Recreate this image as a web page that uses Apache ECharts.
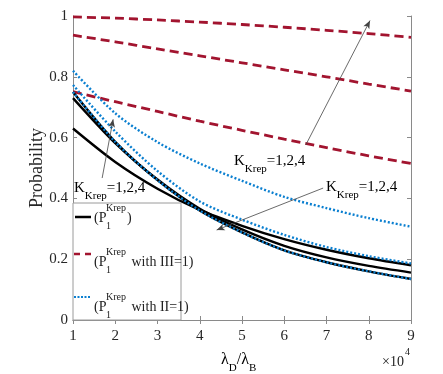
<!doctype html>
<html>
<head>
<meta charset="utf-8">
<title>Probability vs lambda</title>
<script src="https://cdn.jsdelivr.net/npm/echarts@6/dist/echarts.min.js"></script>
<style>
  html, body { margin: 0; padding: 0; background: #fff; }
  #main { width: 443px; height: 374px; }
</style>
</head>
<body>
<div id="main"></div>
<script>
var xs = [1, 2, 3, 4, 5, 6, 7, 8, 9];

// black solid: P1^Krep for Krep = 1, 2, 4
var black1 = [0.630, 0.520, 0.432, 0.362, 0.310, 0.266, 0.231, 0.203, 0.180];
var black2 = [0.730, 0.582, 0.462, 0.366, 0.298, 0.244, 0.206, 0.178, 0.156];
var black4 = [0.750, 0.586, 0.460, 0.360, 0.288, 0.229, 0.190, 0.160, 0.135];

// red dashed: with III=1
var red1 = [0.751, 0.718, 0.686, 0.654, 0.624, 0.595, 0.567, 0.540, 0.515];
var red2 = [0.937, 0.915, 0.892, 0.869, 0.846, 0.823, 0.800, 0.776, 0.753];
var red4 = [0.997, 0.993, 0.987, 0.980, 0.972, 0.963, 0.953, 0.942, 0.930];

// blue dotted: with II=1
var blue1 = [0.820, 0.680, 0.585, 0.515, 0.458, 0.405, 0.368, 0.335, 0.307];
var blue2 = [0.773, 0.620, 0.490, 0.390, 0.330, 0.280, 0.240, 0.210, 0.186];
var blue4 = [0.750, 0.586, 0.460, 0.360, 0.288, 0.229, 0.190, 0.160, 0.135];

// annotation arrows [from, to] in data coords
var arrows = [
  [[6.51, 0.576], [8.03, 0.985]],
  [[1.69, 0.467], [1.95, 0.660]],
  [[6.92, 0.434], [4.40, 0.296]]
];

var SERIF = '"Liberation Serif", "DejaVu Serif", serif';
var BLACK = '#000000', RED = '#A2142F', BLUE = '#0a7fd0';

function pairs(ys) {
  return xs.map(function (x, i) { return [x, ys[i]]; });
}

function lineSeries(ys, color, type, width, z) {
  return {
    type: 'line',
    data: pairs(ys),
    showSymbol: false,
    smooth: 0.3,
    z: z,
    lineStyle: { color: color, width: width, type: type },
    silent: true
  };
}

var myChart = echarts.init(document.getElementById('main'), null, { renderer: 'canvas' });

var krepRich = {
  m: { fontFamily: SERIF, fontSize: 15, color: '#111', verticalAlign: 'top', lineHeight: 15 },
  s: { fontFamily: SERIF, fontSize: 11, color: '#111', verticalAlign: 'bottom', lineHeight: 21 }
};

function krepLabel(x, y) {
  return {
    type: 'text', left: x, top: y, z: 100,
    style: { text: '{m|K}{s|Krep}{m|=1,2,4}', rich: krepRich }
  };
}

function txt(x, y, s, size) {
  return {
    type: 'text', left: x, top: y, z: 101,
    style: { text: s, fontFamily: SERIF, fontSize: size, fill: '#222' }
  };
}

function legendEntry(y, tail) {
  return [
    txt(94, y - 7, '(P', 14),
    txt(106, y - 15, 'Krep', 10),
    txt(106, y + 3, '1', 10),
    txt(tail === ')' ? 127 : 128, y - 7, tail, 14)
  ];
}

var graphics = [
  krepLabel(234, 154),
  krepLabel(74, 181),
  krepLabel(326, 180),
  {
    type: 'rect', z: 90,
    shape: { x: 73, y: 203, width: 108, height: 117 },
    style: { fill: '#fff', stroke: '#9a9a9a', lineWidth: 1 }
  },
  { type: 'line', z: 95, shape: { x1: 75, y1: 217, x2: 91, y2: 217 },
    style: { stroke: BLACK, lineWidth: 2.5 } },
  { type: 'line', z: 95, shape: { x1: 74, y1: 254, x2: 91, y2: 254 },
    style: { stroke: RED, lineWidth: 2.5, lineDash: [6, 5] } },
  { type: 'line', z: 95, shape: { x1: 74, y1: 297, x2: 91, y2: 297 },
    style: { stroke: BLUE, lineWidth: 2, lineDash: [2, 1.5] } },
  {
    type: 'text', left: 221, top: 352, z: 100,
    style: {
      text: '{m|λ}{s|D}{m|/λ}{s|B}',
      rich: {
        m: { fontFamily: SERIF, fontSize: 16, color: '#222', verticalAlign: 'top', lineHeight: 16 },
        s: { fontFamily: SERIF, fontSize: 11, color: '#222', verticalAlign: 'bottom', lineHeight: 22 }
      }
    }
  },
  txt(382, 355, '×10', 14),
  txt(405, 347, '4', 10)
];
graphics = graphics.concat(legendEntry(218, ')'));
graphics = graphics.concat(legendEntry(262, ' with III=1)'));
graphics = graphics.concat(legendEntry(307, ' with II=1)'));

var arrowSeries = {
  type: 'line',
  data: [],
  silent: true,
  markLine: {
    silent: true,
    animation: false,
    symbol: ['none', 'arrow'],
    symbolSize: [5, 8],
    label: { show: false },
    lineStyle: { color: '#444', width: 0.8, type: 'solid' },
    data: arrows.map(function (a) {
      return [{ coord: a[0] }, { coord: a[1] }];
    })
  }
};

var axisCommon = {
  type: 'value',
  splitLine: { show: false },
  axisLine: { show: true, lineStyle: { color: '#8a8a8a', width: 1 } },
  axisTick: { show: true, inside: true, length: 4, lineStyle: { color: '#8a8a8a' } }
};

myChart.setOption({
  animation: false,
  backgroundColor: '#fff',
  grid: { left: 73, right: 32, top: 16, bottom: 54, containLabel: false },
  xAxis: [
    Object.assign({}, axisCommon, {
      min: 1, max: 9, interval: 1,
      axisLabel: { fontFamily: SERIF, fontSize: 15, color: '#262626', margin: 9 }
    }),
    Object.assign({}, axisCommon, {
      position: 'top', min: 1, max: 9, interval: 1,
      axisLabel: { show: false }
    })
  ],
  yAxis: [
    Object.assign({}, axisCommon, {
      min: 0, max: 1, interval: 0.2,
      name: 'Probability',
      nameLocation: 'middle',
      nameGap: 27,
      nameMoveOverlap: false,
      nameTextStyle: { fontFamily: SERIF, fontSize: 18, color: '#262626' },
      axisLabel: { fontFamily: SERIF, fontSize: 15, color: '#262626', margin: 5 }
    }),
    Object.assign({}, axisCommon, {
      position: 'right', min: 0, max: 1, interval: 0.2,
      axisLabel: { show: false }
    })
  ],
  series: [
    lineSeries(red1, RED, [9, 5], 2.8, 2),
    lineSeries(red2, RED, [9, 5], 2.8, 2),
    lineSeries(red4, RED, [9, 5], 2.8, 2),
    lineSeries(black1, BLACK, 'solid', 2.4, 3),
    lineSeries(black2, BLACK, 'solid', 2.4, 3),
    lineSeries(black4, BLACK, 'solid', 2.4, 3),
    lineSeries(blue1, BLUE, [2, 2], 2.4, 4),
    lineSeries(blue2, BLUE, [2, 2], 2.4, 4),
    lineSeries(blue4, BLUE, [2, 2], 2.4, 4),
    arrowSeries
  ],
  graphic: graphics
});
</script>
</body>
</html>
